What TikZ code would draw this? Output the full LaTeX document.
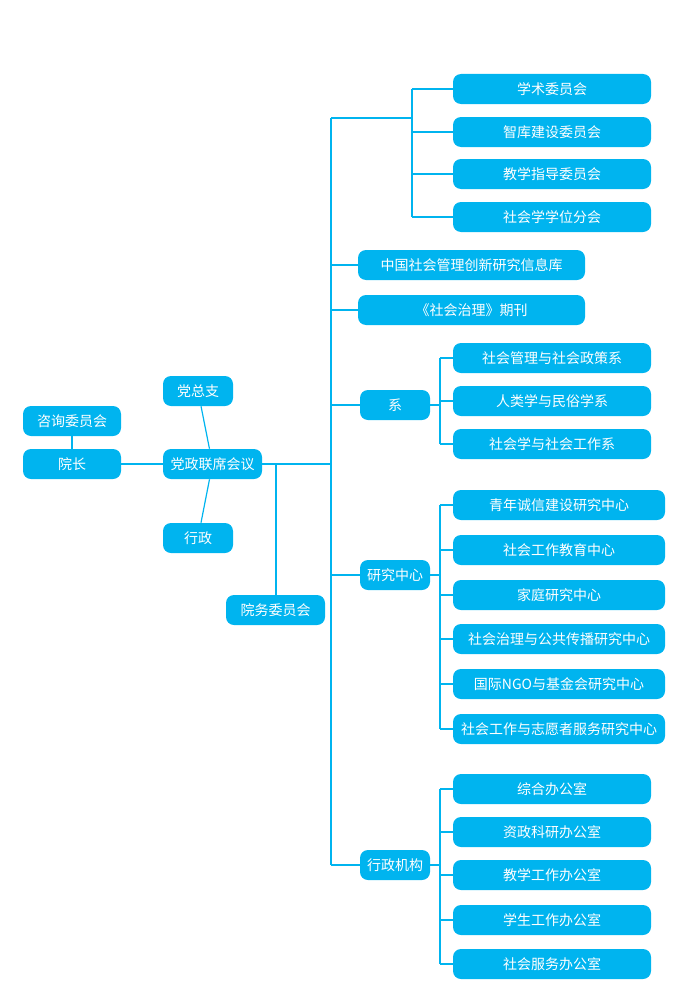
\documentclass[tikz,border=0pt]{standalone}
\usepackage{fontspec}
\setmainfont{Noto Sans CJK SC}
\definecolor{bx}{HTML}{00B4EF}
\begin{document}
\begin{tikzpicture}[x=0.75pt,y=-0.75pt,
 bb/.style={fill=bx,rounded corners=6pt,text=white,font=\fontsize{10.5pt}{12pt}\selectfont,inner sep=0pt,minimum height=22.5pt},
 ln/.style={draw=bx,line width=0.9pt}]
\useasboundingbox (0,0) rectangle (678,999);
\newcommand\bxn[5]{\node[bb,minimum width={(#3-#2)*0.75pt}] (#1) at ({(#2+#3)/2},#4) {#5};}
\bxn{a1}{453}{651}{89}{学术委员会}
\bxn{a2}{453}{651}{132}{智库建设委员会}
\bxn{a3}{453}{651}{174}{教学指导委员会}
\bxn{a4}{453}{651}{217}{社会学学位分会}
\bxn{k}{358}{585}{265}{中国社会管理创新研究信息库}
\bxn{q}{358}{585}{310}{《社会治理》期刊}
\bxn{x}{360}{430}{405}{系}
\bxn{x1}{453}{651}{358}{社会管理与社会政策系}
\bxn{x2}{453}{651}{401}{人类学与民俗学系}
\bxn{x3}{453}{651}{444}{社会学与社会工作系}
\bxn{r}{360}{430}{575}{研究中心}
\bxn{r1}{453}{665}{505}{青年诚信建设研究中心}
\bxn{r2}{453}{665}{550}{社会工作教育中心}
\bxn{r3}{453}{665}{595}{家庭研究中心}
\bxn{r4}{453}{665}{639}{社会治理与公共传播研究中心}
\bxn{r5}{453}{665}{684}{国际NGO与基金会研究中心}
\bxn{r6}{453}{665}{729}{社会工作与志愿者服务研究中心}
\bxn{g}{360}{430}{865}{行政机构}
\bxn{g1}{453}{651}{789}{综合办公室}
\bxn{g2}{453}{651}{832}{资政科研办公室}
\bxn{g3}{453}{651}{875}{教学工作办公室}
\bxn{g4}{453}{651}{920}{学生工作办公室}
\bxn{g5}{453}{651}{964}{社会服务办公室}
\bxn{zx}{23}{121}{421}{咨询委员会}
\bxn{yz}{23}{121}{464}{院长}
\bxn{dz}{163}{233}{391}{党总支}
\bxn{dl}{163}{262}{464}{党政联席会议}
\bxn{xz}{163}{233}{538}{行政}
\bxn{yw}{226}{325}{610}{院务委员会}
% connectors
\coordinate (m1) at (331,118); \coordinate (m2) at (331,865);
\coordinate (s1) at (412,89); \coordinate (s4) at (412,217);
\path[ln] (m1) -- (m2);
\path[ln] (m1) -- (412,118);
\path[ln] (s1) -- (s4);
\foreach \n in {a1,a2,a3,a4} \path[ln] (412,0 |- \n.west) -- (\n.west);
\foreach \n in {k,q,x,r,g} \path[ln] (331,0 |- \n.west) -- (\n.west);
\foreach \p/\a/\b in {x/x1/x3,r/r1/r6,g/g1/g5}{
 \path[ln] (440,0 |- \a.west) -- (440,0 |- \b.west);
 \path[ln] (\p.east) -- (440,0 |- \p.east);
}
\foreach \n in {x1,x2,x3,r1,r2,r3,r4,r5,r6,g1,g2,g3,g4,g5} \path[ln] (440,0 |- \n.west) -- (\n.west);
\path[ln] (zx) -- (yz);
\path[ln] (yz) -- (dl);
\path[ln] (dz) -- (dl);
\path[ln] (dl) -- (xz);
\path[ln] (dl.east) -- (331,464);
\path[ln] (276,464) -- (yw.north -| 276,0);
\end{tikzpicture}
\end{document}
